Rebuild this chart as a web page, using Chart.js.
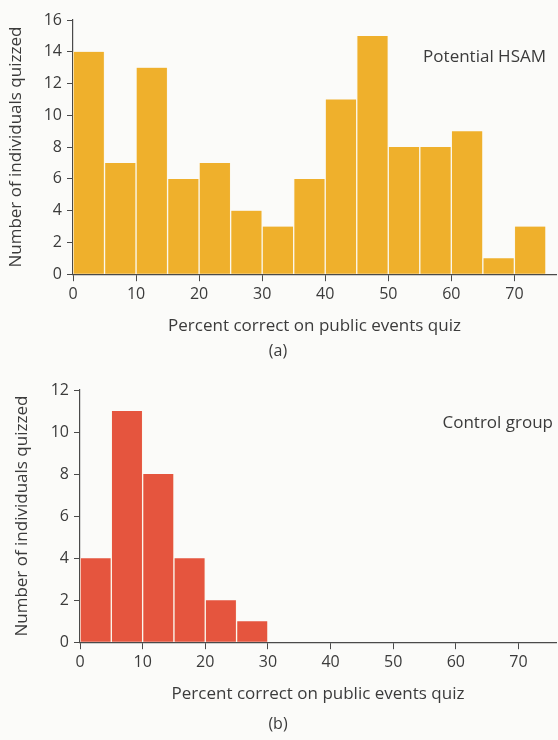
<!DOCTYPE html>
<html>
<head>
<meta charset="utf-8">
<style>
  body { margin: 0; background: #fbfbf9; }
  .panel { position: absolute; left: 0; width: 558px; height: 370px; }
</style>
</head>
<body>
<div class="panel" style="top:0"><canvas id="chartA" width="558" height="370"></canvas></div>
<div class="panel" style="top:370px"><canvas id="chartB" width="558" height="370"></canvas></div>

<script src="https://cdn.jsdelivr.net/npm/chart.js"></script>
<script>
  // histogram bins are 5 points wide, value = left edge of the bin
  const hsamBins = [0, 5, 10, 15, 20, 25, 30, 35, 40, 45, 50, 55, 60, 65, 70];
  const hsamCounts = [14, 7, 13, 6, 7, 4, 3, 6, 11, 15, 8, 8, 9, 1, 3];

  const controlBins = [0, 5, 10, 15, 20, 25];
  const controlCounts = [4, 11, 8, 4, 2, 1];

  const xTicks = [0, 10, 20, 30, 40, 50, 60, 70];
  const xTitle = 'Percent correct on public events quiz';
  const yTitle = 'Number of individuals quizzed';

  const textColor = '#3b3b3b';
  const axisColor = '#4a4a4a';
  const font = "'Open Sans', sans-serif";
  const fs = 17;

  // small text in the upper right of each panel
  const cornerLabel = {
    id: 'cornerLabel',
    afterDraw(chart, args, opts) {
      const c = chart.ctx;
      c.save();
      c.font = fs + 'px ' + font;
      c.fillStyle = textColor;
      c.textAlign = 'right';
      c.textBaseline = 'middle';
      c.fillText(opts.text, chart.chartArea.right + opts.dx, chart.chartArea.top + opts.dy);
      c.restore();
    }
  };

  function makeConfig(bins, counts, color, yMax, xMax, label, panel, axisWidth, yTitlePad, dx, dy, panelPad) {
    return {
      type: 'bar',
      data: {
        datasets: [{
          data: bins.map((b, i) => ({ x: b + 2.5, y: counts[i] })),
          backgroundColor: color,
          borderColor: '#fbf8ee',
          borderWidth: { left: 1, right: 1, top: 0, bottom: 0 },
          borderSkipped: false,
          barPercentage: 1,
          categoryPercentage: 1
        }]
      },
      options: {
        responsive: false,
        animation: false,
        layout: { padding: { top: 20, right: 2, bottom: 6, left: 0 } },
        plugins: {
          legend: { display: false },
          tooltip: { enabled: false },
          title: {
            display: true,
            position: 'bottom',
            text: panel,
            color: textColor,
            font: { family: font, size: fs - 1, weight: 'normal' },
            padding: panelPad
          },
          cornerLabel: { text: label, dx: dx, dy: dy }
        },
        scales: {
          x: {
            type: 'linear',
            min: 0,
            max: xMax,
            offset: false,
            afterBuildTicks: (scale) => {
              scale.ticks = xTicks.map(v => ({ value: v }));
            },
            ticks: { color: textColor, font: { family: font, size: fs - 1 }, padding: 4, maxRotation: 0 },
            grid: { offset: false, drawOnChartArea: false, tickLength: 7, color: axisColor, lineWidth: 1 },
            border: { color: axisColor, width: 1.2 },
            title: {
              display: true,
              text: xTitle,
              color: textColor,
              font: { family: font, size: fs },
              padding: { top: 8, bottom: 0 }
            }
          },
          y: {
            min: 0,
            max: yMax,
            afterFit: (scale) => { scale.width = axisWidth; },
            ticks: { stepSize: 2, color: textColor, font: { family: font, size: fs - 1 }, padding: 5 },
            grid: { drawOnChartArea: false, tickLength: 6, color: axisColor, lineWidth: 1 },
            border: { color: axisColor, width: 1.2 },
            title: {
              display: true,
              text: yTitle,
              color: textColor,
              font: { family: font, size: fs },
              padding: { top: yTitlePad, bottom: 4 }
            }
          }
        }
      },
      plugins: [cornerLabel]
    };
  }

  new Chart(document.getElementById('chartA'),
    makeConfig(hsamBins, hsamCounts, '#efb02c', 16, 76.6, 'Potential HSAM', '(a)', 73, 6, -10, 37,
      { top: 5, bottom: 3 }));
  new Chart(document.getElementById('chartB'),
    makeConfig(controlBins, controlCounts, '#e5553e', 12, 76, 'Control group', '(b)', 80, 12, -3, 33,
      { top: 10, bottom: 0 }));
</script>
</body>
</html>
